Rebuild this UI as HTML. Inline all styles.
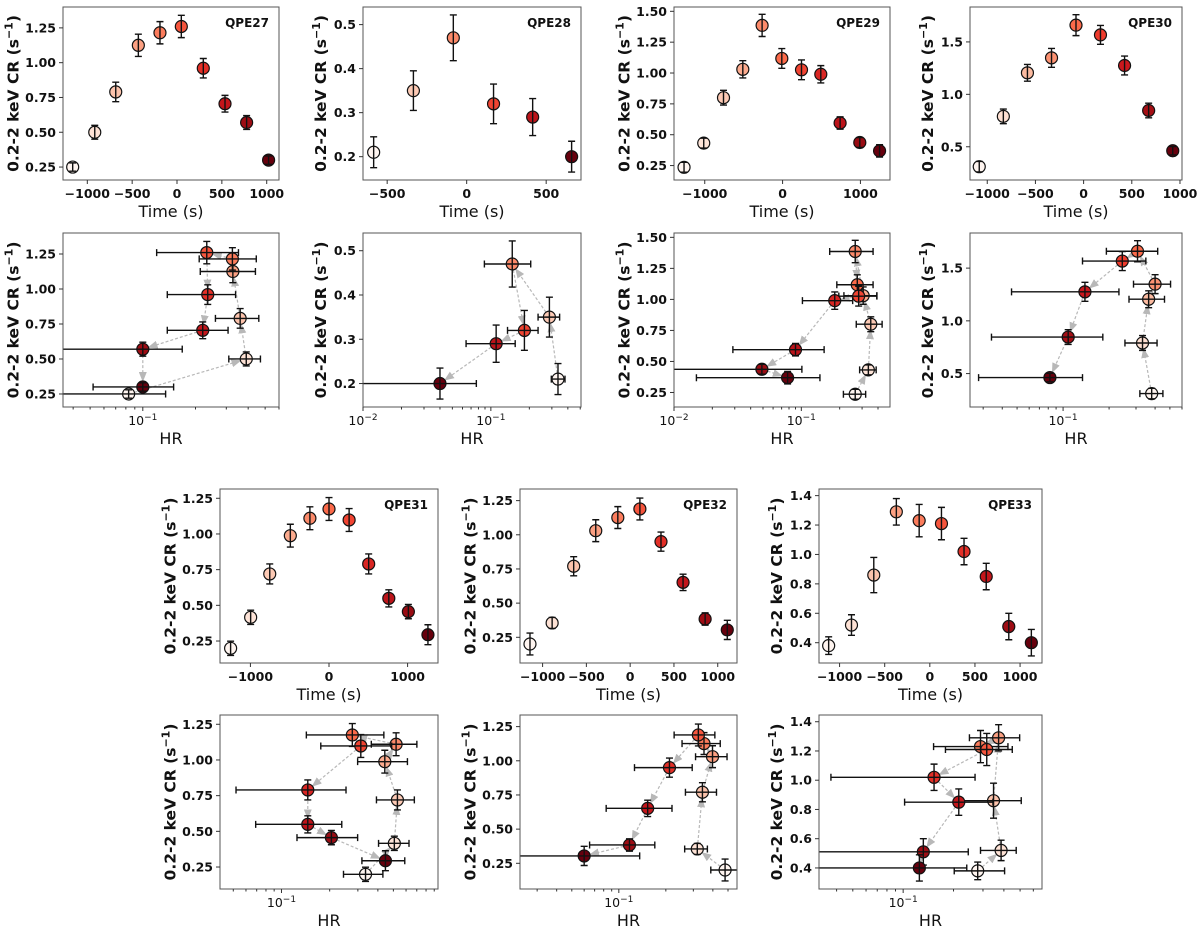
<!DOCTYPE html>
<html><head><meta charset="utf-8"><style>
html,body{margin:0;padding:0;background:#fff;}
svg{display:block;font-family:"DejaVu Sans","Liberation Sans",sans-serif;}
</style></head><body>
<svg id="fig" xmlns="http://www.w3.org/2000/svg" width="1200" height="931" viewBox="0 0 1200 931"></svg>
<script>
// ---- data ----
const qpe27Time=[-1163,-917,-683,-431,-190,48,293,535,776,1021];
const qpe27Rate=[0.25,0.50,0.79,1.125,1.215,1.26,0.96,0.705,0.57,0.30];
const qpe27Err=[0.03,0.05,0.07,0.08,0.08,0.08,0.07,0.06,0.05,0.03];
const qpe27HR=[0.083,0.39,0.36,0.327,0.325,0.232,0.235,0.22,0.10,0.10];
const qpe27HRLo=[0.03,0.31,0.26,0.213,0.21,0.12,0.138,0.138,0.03,0.052];
const qpe27HRHi=[0.135,0.47,0.46,0.44,0.445,0.352,0.339,0.307,0.168,0.15];

const qpe28Time=[-585,-335,-84,169,415,660];
const qpe28Rate=[0.21,0.35,0.47,0.32,0.29,0.20];
const qpe28Err=[0.035,0.045,0.052,0.045,0.042,0.035];
const qpe28HR=[0.335,0.287,0.147,0.183,0.11,0.040];
const qpe28HRLo=[0.297,0.234,0.089,0.135,0.064,0.005];
const qpe28HRHi=[0.38,0.345,0.205,0.234,0.155,0.077];

const qpe29Time=[-1266,-1013,-759,-511,-263,-10,243,491,739,992,1246];
const qpe29Rate=[0.236,0.432,0.80,1.03,1.386,1.118,1.026,0.99,0.595,0.437,0.369];
const qpe29Err=[0.04,0.04,0.06,0.07,0.09,0.08,0.08,0.07,0.05,0.04,0.05];
const qpe29HR=[0.265,0.336,0.351,0.306,0.265,0.275,0.282,0.183,0.090,0.049,0.078];
const qpe29HRLo=[0.214,0.287,0.27,0.216,0.167,0.19,0.197,0.102,0.029,0.005,0.015];
const qpe29HRHi=[0.32,0.387,0.431,0.392,0.366,0.366,0.392,0.253,0.151,0.101,0.14];

const qpe30Time=[-1083,-833,-583,-333,-79,175,425,675,925];
const qpe30Rate=[0.31,0.79,1.205,1.348,1.66,1.567,1.275,0.846,0.462];
const qpe30Err=[0.05,0.07,0.08,0.09,0.1,0.09,0.09,0.07,0.04];
const qpe30HR=[0.38,0.331,0.363,0.4,0.307,0.244,0.139,0.108,0.082];
const qpe30HRLo=[0.318,0.254,0.27,0.289,0.192,0.134,0.046,0.034,0.028];
const qpe30HRHi=[0.45,0.412,0.461,0.505,0.416,0.348,0.232,0.182,0.134];

const qpe31Time=[-1252,-997,-754,-492,-243,0,256,505,761,1010,1259];
const qpe31Rate=[0.199,0.416,0.72,0.988,1.11,1.175,1.098,0.79,0.549,0.456,0.294];
const qpe31Err=[0.05,0.05,0.07,0.08,0.08,0.08,0.08,0.07,0.06,0.05,0.07];
const qpe31HR=[0.335,0.507,0.53,0.442,0.52,0.277,0.313,0.146,0.146,0.205,0.446];
const qpe31HRLo=[0.244,0.404,0.392,0.299,0.364,0.143,0.176,0.052,0.069,0.125,0.318];
const qpe31HRHi=[0.43,0.626,0.676,0.612,0.701,0.436,0.488,0.253,0.238,0.299,0.589];

const qpe32Time=[-1144,-891,-645,-393,-141,111,352,604,856,1109];
const qpe32Rate=[0.201,0.355,0.77,1.03,1.126,1.189,0.95,0.652,0.384,0.304];
const qpe32Err=[0.08,0.04,0.07,0.08,0.08,0.08,0.07,0.06,0.045,0.07];
const qpe32HR=[0.479,0.318,0.343,0.398,0.351,0.323,0.211,0.153,0.117,0.060];
const qpe32HRLo=[0.388,0.264,0.267,0.31,0.254,0.226,0.126,0.083,0.065,0.02];
const qpe32HRHi=[0.578,0.369,0.422,0.493,0.446,0.412,0.295,0.219,0.170,0.136];

const qpe33Time=[-1121,-868,-621,-371,-118,129,379,625,875,1125];
const qpe33Rate=[0.38,0.52,0.86,1.29,1.23,1.21,1.02,0.85,0.51,0.40];
const qpe33Err=[0.06,0.07,0.12,0.09,0.11,0.11,0.09,0.09,0.09,0.09];
const qpe33HR=[0.279,0.385,0.347,0.372,0.29,0.316,0.153,0.215,0.132,0.125];
const qpe33HRLo=[0.202,0.29,0.227,0.249,0.152,0.179,0.037,0.102,0.02,0.02];
const qpe33HRHi=[0.404,0.474,0.508,0.497,0.423,0.449,0.269,0.344,0.245,0.24];

const timeTicksA=[-1000,-500,0,500,1000];
const timeTicksB=[-500,0,500];
const timeTicksC=[-1000,0,1000];
const rateTicks25=[0.25,0.50,0.75,1.00,1.25];
const rateTicks29=[0.25,0.50,0.75,1.00,1.25,1.50];
const rateTicks28=[0.2,0.3,0.4,0.5];
const rateTicks30=[0.5,1.0,1.5];
const rateTicks33=[0.4,0.6,0.8,1.0,1.2,1.4];

// ---- rendering ----
const NS="http://www.w3.org/2000/svg";
const svg=document.getElementById('fig');
function mk(tag,attrs,parent){const e=document.createElementNS(NS,tag);for(const k in attrs)e.setAttribute(k,attrs[k]);(parent||svg).appendChild(e);return e;}
const REDS=["#fff5f0","#fee0d2","#fcbba1","#fc9272","#fb6a4a","#ef3b2c","#cb181d","#a50f15","#67000d"];
function hex(c){return [parseInt(c.slice(1,3),16),parseInt(c.slice(3,5),16),parseInt(c.slice(5,7),16)];}
function cmap(t){const p=t*(REDS.length-1);const i=Math.min(Math.floor(p),REDS.length-2);const f=p-i;const a=hex(REDS[i]),b=hex(REDS[i+1]);return 'rgb('+a.map((v,k)=>Math.round(v+(b[k]-v)*f)).join(',')+')';}
function fmtTick(v,d){return (v<0?'\u2212':'')+Math.abs(v).toFixed(d);}
const defs=mk('defs',{});
const mkr=mk('marker',{id:'arrowhead',markerWidth:'10',markerHeight:'8',refX:'9',refY:'4',orient:'auto',markerUnits:'userSpaceOnUse'},defs);
mk('path',{d:'M0,0 L10,4 L0,8 Z',fill:'#b8b8b8'},mkr);

function yLabel(g,x,y){
  const t=mk('text',{x:x,y:y,transform:'rotate(-90 '+x+' '+y+')','text-anchor':'middle','font-size':'15.5','font-weight':'bold',fill:'#111'},g);
  
  
  t.appendChild(document.createTextNode('0.2-2 keV CR (s'));
  const s=mk('tspan',{dy:'-6','font-size':'11'},t);s.textContent='\u22121';
  const s2=mk('tspan',{dy:'6'},t);s2.textContent=')';
}

function frame(g,L,T,W,H){
  const r=mk('rect',{x:L,y:T,width:W,height:H,fill:'none',stroke:'#555',"stroke-width":'1'},g);
  
  
}

function yAxis(g,L,sy,ticks,dec){
  let maxw=0;
  ticks.forEach(v=>{const y=sy(v);
    mk('line',{x1:L-4,x2:L,y1:y,y2:y,stroke:'#333'},g);
    const s=fmtTick(v,dec);maxw=Math.max(maxw,s.length*7.6);
    const t=mk('text',{x:L-7,y:y+4.5,'text-anchor':'end','font-size':'12.5','font-weight':'bold',fill:'#111'},g);
    
    
    t.textContent=s;});
  return maxw;
}

function drawPoints(g,xs,ys,yerr,xlo,xhi,sx,sy,n){
  for(let i=0;i<n;i++){
    const cx=sx(xs[i]),cy=sy(ys[i]);
    const c=mk('circle',{cx:cx,cy:cy,r:6,fill:cmap(n>1?i/(n-1):0),stroke:'#111','stroke-width':'1.2'},g);
    
    
    const y1=sy(ys[i]+yerr[i]),y2=sy(ys[i]-yerr[i]);
    const eb=mk('path',{d:'M'+cx+','+y1+'V'+y2+'M'+(cx-3.5)+','+y1+'h7M'+(cx-3.5)+','+y2+'h7',stroke:'#111','stroke-width':'1.4',fill:'none'},g);
    
    
    if(xlo){const xa=sx(xlo[i]),xb=sx(xhi[i]);
      const ex=mk('path',{d:'M'+xa+','+cy+'H'+xb+'M'+xa+','+(cy-3.5)+'v7M'+xb+','+(cy-3.5)+'v7',stroke:'#111','stroke-width':'1.4',fill:'none'},g);
      
      }
  }
}

function timePanel(name,L,T,W,H,tArr,rArr,eArr,xr,yr,xt,yt,dec){
  const g=mk('g',{});
  
  
  const sx=v=>L+(v-xr[0])/(xr[1]-xr[0])*W;
  const sy=v=>T+H-(v-yr[0])/(yr[1]-yr[0])*H;
  const cp=mk('clipPath',{id:'c'+name+'t'},defs);mk('rect',{x:L,y:T,width:W,height:H},cp);
  const pg=mk('g',{'clip-path':'url(#c'+name+'t)'},g);
  drawPoints(pg,tArr,rArr,eArr,null,null,sx,sy,tArr.length);
  frame(g,L,T,W,H);
  xt.forEach(v=>{const x=sx(v);mk('line',{x1:x,x2:x,y1:T+H,y2:T+H+4,stroke:'#333'},g);
    const t=mk('text',{x:x,y:T+H+18,'text-anchor':'middle','font-size':'12.5','font-weight':'bold',fill:'#111'},g);
    
    
    t.textContent=fmtTick(v,0);});
  const w=yAxis(g,L,sy,yt,dec);
  yLabel(g,L-14-w,T+H/2);
  const xl=mk('text',{x:L+W/2,y:T+H+37,'text-anchor':'middle','font-size':'16',fill:'#111'},g);
  
  
  xl.textContent='Time (s)';
  const ti=mk('text',{x:L+W-10,y:T+20,'text-anchor':'end','font-size':'12','font-weight':'bold',fill:'#111'},g);
  
  
  ti.textContent=name;
}

function hrPanel(name,L,T,W,H,hArr,lo,hi,rArr,eArr,xr,yr,yt,dec){
  const g=mk('g',{});
  
  
  const l0=Math.log10(xr[0]),l1=Math.log10(xr[1]);
  const sx=v=>L+(Math.log10(v)-l0)/(l1-l0)*W;
  const sy=v=>T+H-(v-yr[0])/(yr[1]-yr[0])*H;
  const cp=mk('clipPath',{id:'c'+name+'h'},defs);mk('rect',{x:L,y:T,width:W,height:H},cp);
  const pg=mk('g',{'clip-path':'url(#c'+name+'h)'},g);
  const n=hArr.length;
  for(let i=0;i<n-1;i++){
    const x1=sx(hArr[i]),y1=sy(rArr[i]),x2=sx(hArr[i+1]),y2=sy(rArr[i+1]);
    const d=Math.hypot(x2-x1,y2-y1)||1;const ux=(x2-x1)/d,uy=(y2-y1)/d;
    const a=mk('line',{x1:x1+ux*6,y1:y1+uy*6,x2:x2-ux*6,y2:y2-uy*6,stroke:'#b8b8b8','stroke-width':'1.2','stroke-dasharray':'3,2','marker-end':'url(#arrowhead)'},pg);
    
    
  }
  drawPoints(pg,hArr,rArr,eArr,lo,hi,sx,sy,n);
  frame(g,L,T,W,H);
  for(let e=Math.floor(l0);e<=Math.ceil(l1);e++){
    for(let m=1;m<10;m++){const v=m*Math.pow(10,e);const lv=Math.log10(v);
      if(lv<l0-1e-9||lv>l1+1e-9)continue;const x=sx(v);
      mk('line',{x1:x,x2:x,y1:T+H,y2:T+H+(m===1?4:2.5),stroke:'#333'},g);
      if(m===1){const t=mk('text',{x:x,y:T+H+18,'text-anchor':'middle','font-size':'12.5',fill:'#111'},g);
        
        
        t.appendChild(document.createTextNode('10'));
        const s=mk('tspan',{dy:'-5','font-size':'9'},t);s.textContent='\u2212'+(-e);}
    }
  }
  const w=yAxis(g,L,sy,yt,dec);
  yLabel(g,L-14-w,T+H/2);
  const xl=mk('text',{x:L+W/2,y:T+H+37,'text-anchor':'middle','font-size':'16',fill:'#111'},g);
  
  
  xl.textContent='HR';
}

// top row
timePanel('QPE27',63,7,216,173,qpe27Time,qpe27Rate,qpe27Err,[-1271,1137],[0.157,1.40],timeTicksA,rateTicks25,2);
hrPanel('QPE27',63,233,216,174,qpe27HR,qpe27HRLo,qpe27HRHi,qpe27Rate,qpe27Err,[0.035,0.6],[0.157,1.40],rateTicks25,2);
timePanel('QPE28',363,7,218,173,qpe28Time,qpe28Rate,qpe28Err,[-652,719],[0.147,0.54],timeTicksB,rateTicks28,1);
hrPanel('QPE28',363,233,218,174,qpe28HR,qpe28HRLo,qpe28HRHi,qpe28Rate,qpe28Err,[0.01,0.507],[0.147,0.54],rateTicks28,1);
timePanel('QPE29',674,7,216,173,qpe29Time,qpe29Rate,qpe29Err,[-1395,1380],[0.133,1.535],timeTicksC,rateTicks29,2);
hrPanel('QPE29',674,233,216,174,qpe29HR,qpe29HRLo,qpe29HRHi,qpe29Rate,qpe29Err,[0.01,0.497],[0.133,1.535],rateTicks29,2);
timePanel('QPE30',970,7,212,173,qpe30Time,qpe30Rate,qpe30Err,[-1179,1021],[0.183,1.833],timeTicksA,rateTicks30,1);
hrPanel('QPE30',970,233,212,174,qpe30HR,qpe30HRLo,qpe30HRHi,qpe30Rate,qpe30Err,[0.0246,0.6],[0.183,1.833],rateTicks30,1);
// bottom row
timePanel('QPE31',220,489,218,174,qpe31Time,qpe31Rate,qpe31Err,[-1387,1387],[0.096,1.315],timeTicksC,rateTicks25,2);
hrPanel('QPE31',220,715,218,174,qpe31HR,qpe31HRLo,qpe31HRHi,qpe31Rate,qpe31Err,[0.0413,0.95],[0.096,1.315],rateTicks25,2);
timePanel('QPE32',520,489,217,174,qpe32Time,qpe32Rate,qpe32Err,[-1258,1220],[0.062,1.335],timeTicksA,rateTicks25,2);
hrPanel('QPE32',520,715,217,174,qpe32HR,qpe32HRLo,qpe32HRHi,qpe32Rate,qpe32Err,[0.0233,0.571],[0.062,1.335],rateTicks25,2);
timePanel('QPE33',819,489,223,174,qpe33Time,qpe33Rate,qpe33Err,[-1228,1243],[0.262,1.445],timeTicksA,rateTicks33,1);
hrPanel('QPE33',819,715,223,174,qpe33HR,qpe33HRLo,qpe33HRHi,qpe33Rate,qpe33Err,[0.0314,0.676],[0.256,1.446],rateTicks33,1);
</script>
</body></html>
